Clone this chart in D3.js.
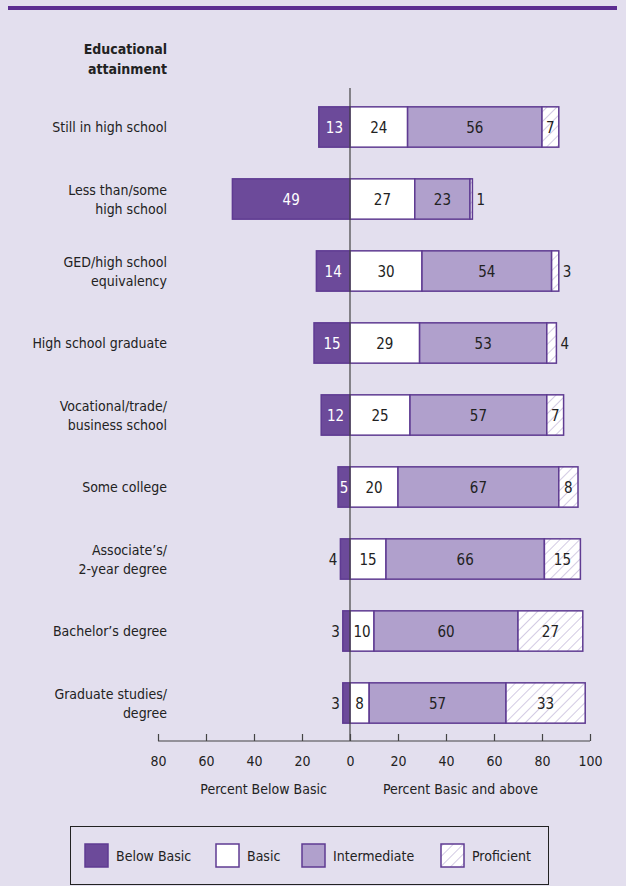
<!DOCTYPE html>
<html>
<head>
<meta charset="utf-8">
<script src="https://cdn.jsdelivr.net/npm/d3@7"></script>
<style>
  body { margin: 0; background: #e3dfee; }
  svg { display: block; font-family: "DejaVu Sans Condensed", "Roboto", sans-serif; }
</style>
</head>
<body>
<div id="chart"></div>
<script>
// chart data
var categories = [
  ["Still in high school"],
  ["Less than/some", "high school"],
  ["GED/high school", "equivalency"],
  ["High school graduate"],
  ["Vocational/trade/", "business school"],
  ["Some college"],
  ["Associate\u2019s/", "2-year degree"],
  ["Bachelor\u2019s degree"],
  ["Graduate studies/", "degree"]
];
var belowBasic   = [13, 49, 14, 15, 12, 5, 4, 3, 3];
var basic        = [24, 27, 30, 29, 25, 20, 15, 10, 8];
var intermediate = [56, 23, 54, 53, 57, 67, 66, 60, 57];
var proficient   = [7, 1, 3, 4, 7, 8, 15, 27, 33];
var tickValues = [-80, -60, -40, -20, 0, 20, 40, 60, 80, 100];
var legendLabels = ["Below Basic", "Basic", "Intermediate", "Proficient"];

var W = 626, H = 886;
var purple = "#5f3b92";
var fills = ["#6c4a9a", "#ffffff", "#b0a0cc", "url(#hatch)"];
var FONT = "DejaVu Sans Condensed, Roboto, sans-serif";

var svg = d3.select("#chart").append("svg")
  .attr("width", W).attr("height", H);

var defs = svg.append("defs");
var pat = defs.append("pattern")
  .attr("id", "hatch")
  .attr("patternUnits", "userSpaceOnUse")
  .attr("width", 7).attr("height", 7)
  .attr("patternTransform", "rotate(45)");
pat.append("rect").attr("width", 7).attr("height", 7).attr("fill", "#fff");
pat.append("line").attr("x1", 0).attr("y1", 0).attr("x2", 0).attr("y2", 7)
  .attr("stroke", "#a898c8").attr("stroke-width", 1);

// top rule
svg.append("rect").attr("x", 8).attr("y", 6).attr("width", 609).attr("height", 4).attr("fill", "#5c2d91");

var x = d3.scaleLinear().domain([-80, 100]).range([158, 590]);
var y = d3.scaleBand().domain(d3.range(categories.length)).range([91, 739]).paddingInner(0.44).paddingOuter(0.22);

// header
var hdr = svg.append("text").attr("x", 167).attr("text-anchor", "end")
  .attr("font-weight", "bold").attr("font-size", 14).attr("fill", "#222");
hdr.append("tspan").attr("x", 167).attr("y", 54).text("Educational");
hdr.append("tspan").attr("x", 167).attr("y", 74).text("attainment");

// category labels
categories.forEach(function(lines, i) {
  var cy = y(i) + y.bandwidth() / 2;
  var t = svg.append("text").attr("text-anchor", "end").attr("font-size", 14).attr("fill", "#222");
  lines.forEach(function(l, j) {
    t.append("tspan").attr("x", 167)
      .attr("y", cy + 5 + (j - (lines.length - 1) / 2) * 19)
      .text(l);
  });
});

// bars
categories.forEach(function(c, i) {
  var g = svg.append("g");
  var top = y(i), h = y.bandwidth(), cy = top + h / 2;
  var segs = [
    {v: belowBasic[i], x0: -belowBasic[i], x1: 0},
    {v: basic[i], x0: 0, x1: basic[i]},
    {v: intermediate[i], x0: basic[i], x1: basic[i] + intermediate[i]},
    {v: proficient[i], x0: basic[i] + intermediate[i], x1: basic[i] + intermediate[i] + proficient[i]}
  ];
  segs.forEach(function(s, k) {
    g.append("rect")
      .attr("x", x(s.x0)).attr("y", top)
      .attr("width", x(s.x1) - x(s.x0)).attr("height", h)
      .attr("fill", fills[k]).attr("stroke", purple).attr("stroke-width", 1.5);
    var inside = s.v >= 5;
    var tx, anchor = "middle";
    if (inside) tx = (x(s.x0) + x(s.x1)) / 2;
    else if (k === 0) { tx = x(s.x0) - 3; anchor = "end"; }
    else { tx = x(s.x1) + 4; anchor = "start"; }
    g.append("text").attr("x", tx).attr("y", cy + 6)
      .attr("text-anchor", anchor).attr("font-size", 15)
      .attr("fill", (k === 0 && inside) ? "#fff" : "#222")
      .text(s.v);
  });
});

// zero line
svg.append("line").attr("x1", x(0)).attr("x2", x(0)).attr("y1", 88).attr("y2", 741)
  .attr("stroke", "#444").attr("stroke-width", 1.2);

// axis
var axis = d3.axisBottom(x).tickValues(tickValues).tickSize(-7)
  .tickFormat(function(d) { return Math.abs(d); });
var ag = svg.append("g").attr("transform", "translate(0,741)").call(axis);
ag.select(".domain").attr("stroke", "#444").attr("stroke-width", 1.2).attr("d", "M" + x(-80) + ",0H" + x(100));
ag.selectAll(".tick line").attr("stroke", "#444").attr("stroke-width", 1.2);
ag.selectAll(".tick text").attr("font-size", 14).attr("fill", "#222").attr("y", 15)
  .attr("font-family", FONT);

svg.append("text").attr("x", x(-36)).attr("y", 794).attr("text-anchor", "middle")
  .attr("font-size", 14).attr("fill", "#222").text("Percent Below Basic");
svg.append("text").attr("x", x(46)).attr("y", 794).attr("text-anchor", "middle")
  .attr("font-size", 14).attr("fill", "#222").text("Percent Basic and above");

// legend
var lg = svg.append("g");
lg.append("rect").attr("x", 70.5).attr("y", 826.5).attr("width", 478).attr("height", 58)
  .attr("fill", "none").attr("stroke", "#222").attr("stroke-width", 1);
var lx = [85, 216, 302, 441];
legendLabels.forEach(function(l, k) {
  lg.append("rect").attr("x", lx[k]).attr("y", 844).attr("width", 23).attr("height", 23)
    .attr("fill", fills[k]).attr("stroke", purple).attr("stroke-width", 1.5);
  lg.append("text").attr("x", lx[k] + 31).attr("y", 861).attr("font-size", 14).attr("fill", "#222").text(l);
});
</script>
</body>
</html>
